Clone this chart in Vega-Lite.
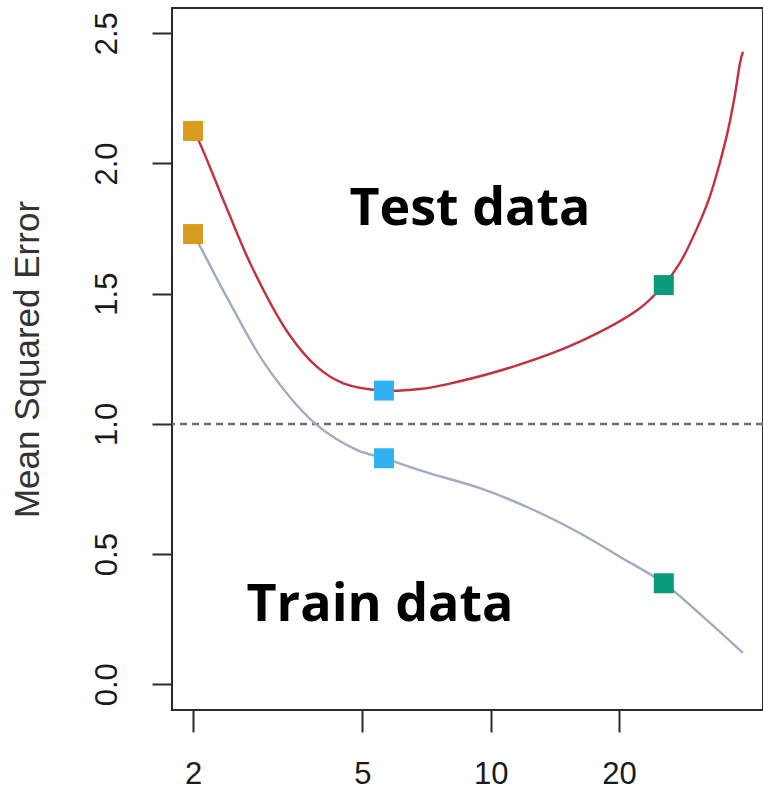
{
  "$schema": "https://vega.github.io/schema/vega-lite/v6.json",
  "autosize": {"type": "none"},
  "padding": {"left": 172, "top": 8, "right": 0, "bottom": 79},
  "width": 591,
  "height": 702,
  "background": "white",
  "config": {
    "view": {"stroke": "#2b2b2b", "strokeWidth": 2},
    "font": "Liberation Sans"
  },
  "datasets": {
    "curves": [
      {"set": "Test", "df": 2.0, "mse": 2.125},
      {"set": "Test", "df": 2.058, "mse": 2.09},
      {"set": "Test", "df": 2.356, "mse": 1.86},
      {"set": "Test", "df": 2.747, "mse": 1.604},
      {"set": "Test", "df": 3.348, "mse": 1.348},
      {"set": "Test", "df": 3.903, "mse": 1.22},
      {"set": "Test", "df": 4.507, "mse": 1.156},
      {"set": "Test", "df": 5.615, "mse": 1.128},
      {"set": "Test", "df": 6.82, "mse": 1.134},
      {"set": "Test", "df": 7.88, "mse": 1.152},
      {"set": "Test", "df": 11.3, "mse": 1.22},
      {"set": "Test", "df": 16.2, "mse": 1.316},
      {"set": "Test", "df": 22.4, "mse": 1.444},
      {"set": "Test", "df": 25.5, "mse": 1.533},
      {"set": "Test", "df": 27.8, "mse": 1.617},
      {"set": "Test", "df": 30.4, "mse": 1.745},
      {"set": "Test", "df": 32.7, "mse": 1.873},
      {"set": "Test", "df": 34.5, "mse": 2.001},
      {"set": "Test", "df": 36.1, "mse": 2.129},
      {"set": "Test", "df": 37.4, "mse": 2.257},
      {"set": "Test", "df": 38.5, "mse": 2.385},
      {"set": "Test", "df": 39.1, "mse": 2.429},
      {"set": "Train", "df": 2.0, "mse": 1.729},
      {"set": "Train", "df": 2.058, "mse": 1.694},
      {"set": "Train", "df": 2.42, "mse": 1.476},
      {"set": "Train", "df": 2.979, "mse": 1.22},
      {"set": "Train", "df": 3.868, "mse": 1.002},
      {"set": "Train", "df": 4.846, "mse": 0.9},
      {"set": "Train", "df": 5.615, "mse": 0.868},
      {"set": "Train", "df": 7.2, "mse": 0.81},
      {"set": "Train", "df": 9.44, "mse": 0.753},
      {"set": "Train", "df": 12.36, "mse": 0.676},
      {"set": "Train", "df": 16.2, "mse": 0.58},
      {"set": "Train", "df": 20.1, "mse": 0.49},
      {"set": "Train", "df": 25.5, "mse": 0.388},
      {"set": "Train", "df": 31.5, "mse": 0.26},
      {"set": "Train", "df": 39.1, "mse": 0.121}
    ],
    "squares": [
      {"model": "linear", "df": 2.0, "mse": 2.125},
      {"model": "linear", "df": 2.0, "mse": 1.729},
      {"model": "smooth", "df": 5.615, "mse": 1.128},
      {"model": "smooth", "df": 5.615, "mse": 0.868},
      {"model": "wiggly", "df": 25.5, "mse": 1.533},
      {"model": "wiggly", "df": 25.5, "mse": 0.388}
    ],
    "labels": [
      {"label": "Test data", "df": 8.94, "mse": 1.764},
      {"label": "Train data", "df": 5.496, "mse": 0.243}
    ],
    "ref": [{"level": 1}]
  },
  "encoding": {
    "x": {
      "field": "df",
      "type": "quantitative",
      "scale": {"type": "log", "domain": [1.785, 43.6], "nice": false, "zero": false},
      "axis": {
        "title": null,
        "values": [2, 5, 10, 20],
        "format": "d",
        "grid": false,
        "domain": false,
        "tickSize": 22,
        "tickWidth": 2,
        "tickColor": "#2b2b2b",
        "labelFontSize": 31,
        "labelColor": "#1a1a1a",
        "labelPadding": 27,
        "labelBaseline": "top",
        "labelFlush": false,
        "labelFont": "Liberation Sans"
      }
    },
    "y": {
      "field": "mse",
      "type": "quantitative",
      "scale": {"domain": [-0.0987, 2.597], "nice": false, "zero": false},
      "axis": {
        "title": "Mean Squared Error",
        "titleFontSize": 35,
        "titleFontWeight": "normal",
        "titleColor": "#333333",
        "titleFont": "Liberation Sans",
        "titleX": -127,
        "titleBaseline": "bottom",
        "values": [0, 0.5, 1, 1.5, 2, 2.5],
        "format": ".1f",
        "grid": false,
        "domain": false,
        "tickSize": 20,
        "tickWidth": 2,
        "tickColor": "#2b2b2b",
        "labelAngle": -90,
        "labelAlign": "center",
        "labelBaseline": "bottom",
        "labelFontSize": 31,
        "labelColor": "#1a1a1a",
        "labelPadding": 29,
        "labelFlush": false,
        "labelFont": "Liberation Sans"
      }
    }
  },
  "layer": [
    {
      "data": {"name": "ref"},
      "mark": {"type": "rule", "strokeDash": [7, 5], "strokeWidth": 2.5, "color": "#6f6f6f"},
      "encoding": {"y": {"field": "level", "type": "quantitative"}, "x": null}
    },
    {
      "data": {"name": "curves"},
      "mark": {"type": "line", "interpolate": "catmull-rom", "strokeWidth": 2.4},
      "encoding": {
        "color": {
          "field": "set",
          "type": "nominal",
          "scale": {"domain": ["Test", "Train"], "range": ["#c4303f", "#a3abc2"]},
          "legend": null
        },
        "detail": {"field": "set"}
      }
    },
    {
      "data": {"name": "squares"},
      "mark": {"type": "point", "shape": "square", "filled": true, "size": 400, "opacity": 1, "strokeWidth": 0},
      "encoding": {
        "color": {
          "field": "model",
          "type": "nominal",
          "scale": {"domain": ["linear", "smooth", "wiggly"], "range": ["#d99b1e", "#2fb2ef", "#0b9a7a"]},
          "legend": null
        }
      }
    },
    {
      "data": {"name": "labels"},
      "mark": {"type": "text", "font": "Open Sans", "fontWeight": "bold", "fontSize": 52, "align": "center", "baseline": "alphabetic", "color": "#000000"},
      "encoding": {"text": {"field": "label"}}
    }
  ],
  "resolve": {"scale": {"color": "independent"}}
}
